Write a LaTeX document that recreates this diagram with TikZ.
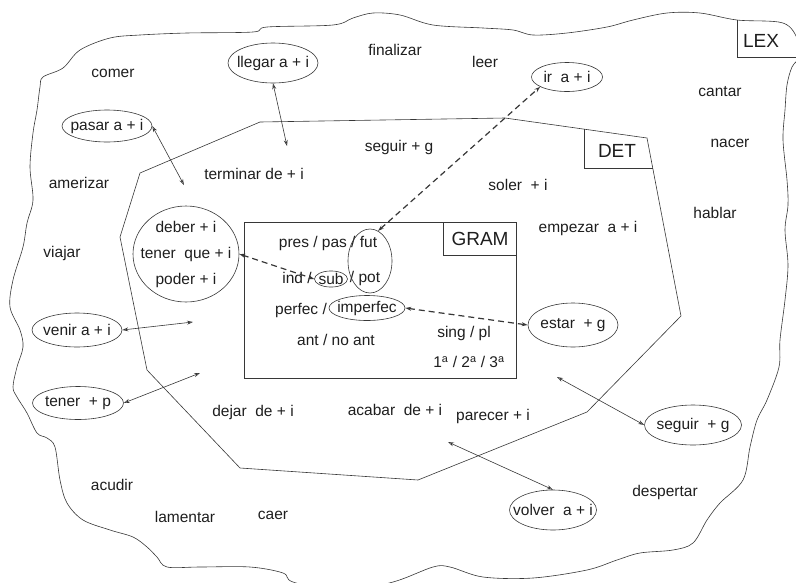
\documentclass[tikz,border=0pt]{standalone}
\usepackage{fontspec}
\setmainfont{Liberation Sans}
\usetikzlibrary{arrows.meta,shapes.geometric}
\definecolor{skInk}  {RGB}{ 30, 30, 30}
\definecolor{skLine} {RGB}{ 55, 55, 55}

\begin{document}
\begin{tikzpicture}[x=1pt,y=-1pt,
  every node/.style={font=\fontsize{15.5}{18}\selectfont,text=skInk},
  ov/.style={ellipse,draw=skLine,line width=0.6pt,inner xsep=-14pt,inner ysep=0pt},
  tag/.style={font=\fontsize{19}{22}\selectfont},
  rim/.style={draw=skLine,line width=0.6pt},
  arr/.style={{Stealth[open,length=6pt,width=4pt]}-{Stealth[open,length=6pt,width=4pt]},
              line width=0.6pt,skLine},
  darr/.style={arr,dash pattern=on 6pt off 4pt,line width=1.2pt}
]
\useasboundingbox (0,0) rectangle (796,582);

% LEX
\draw[rim] plot[smooth cycle,tension=0.55] coordinates {
  (43,77) (63,68) (80,50) (110,38) (140,35) (187,33) (253,32) (267,27)
  (333,25) (353,18) (373,13) (400,15) (433,25) (483,28) (513,30) (533,35)
  (567,33) (607,27) (633,20) (667,13) (700,13) (737,20) (783,23) (798,40)
  (800,56) (792,67) (787,85) (785,110) (783,140) (787,180) (788,205)
  (785,230) (788,265) (785,300) (780,340) (779,367) (767,400) (757,420)
  (750,447) (743,480) (720,503) (707,520) (693,543) (673,550) (640,553)
  (617,560) (587,570) (533,578) (483,577) (450,567) (433,567) (393,582)
  (340,592) (293,582) (283,573) (250,567) (200,567) (167,567) (157,557)
  (147,547) (133,537) (110,530) (83,520) (67,503) (60,480) (55,447)
  (47,438) (37,433) (27,413) (17,397) (13,387) (17,367) (23,347) (20,330)
  (10,307) (13,280) (23,247) (27,223) (33,200) (30,167) (33,133) (37,110)
  (40,87)};
\draw[rim] (737,20) -- (737,57) -- (800,57);
\node[tag] (lex) at (761,41) {LEX};

% DET
\draw[rim] (140,173) -- (260,122) -- (505,118) -- (647,138) -- (681,316)
  -- (587,412) -- (418,480) -- (240,468) -- (147,370) -- (120,237) -- cycle;
\draw[rim] (584,129) -- (584,168) -- (652.7,168);
\node[tag] (det) at (617,151) {DET};

% GRAM
\draw[rim] (244,222) rectangle (516,378);
\draw[rim] (443,222) -- (443,255) -- (516,255);
\node[tag] (gram) at (480,239) {GRAM};

\node (tiempo) at (328,243) {pres / pas / fut};
\node (ind) at (297,278) {ind /};
\node[ov,minimum width=33pt,minimum height=16pt] (sub) at (331,279) {sub};
\node (pot) at (365,278) {/ pot};
\node[ov,minimum width=44pt,minimum height=64pt] (futpot) at (370,261) {};
\node (perfec) at (301,310) {perfec /};
\node[ov,minimum width=76pt,minimum height=25pt] (imperfec) at (367,308) {imperfec};
\node (ant) at (336,340) {ant / no ant};
\node (num) at (464,333) {sing / pl};
\node (pers) at (469,362) {1\textsuperscript{a} / 2\textsuperscript{a} / 3\textsuperscript{a}};

% plain verbs
\node (comer) at (113,73) {comer};
\node (finalizar) at (395,50) {finalizar};
\node (leer) at (485,62) {leer};
\node (cantar) at (720,92) {cantar};
\node (nacer) at (730,143) {nacer};
\node (hablar) at (715,213) {hablar};
\node (seguir) at (399,147) {seguir + g};
\node (terminar) at (254,174) {terminar de + i};
\node (amerizar) at (79,183) {amerizar};
\node (soler) at (518,185) {soler\ \ + i};
\node (viajar) at (62,253) {viajar};
\node (empezar) at (588,228) {empezar\ \ a + i};
\node (dejar) at (253,412) {dejar\ \ de + i};
\node (acabar) at (395,410) {acabar\ \ de + i};
\node (parecer) at (493,416) {parecer + i};
\node (acudir) at (112,485) {acudir};
\node (lamentar) at (185,517) {lamentar};
\node (caer) at (273,515) {caer};
\node (despertar) at (665,492) {despertar};

% circled verbs
\node[ov,minimum width=90pt,minimum height=40pt] (llegar) at (273,63) {llegar a + i};
\node[ov,minimum width=90pt,minimum height=32pt] (pasar) at (107,126) {pasar a + i};
\node[ov,minimum width=71pt,minimum height=29pt] (ir) at (567,77) {ir\ \ a + i};
\node[ov,minimum width=106pt,minimum height=96pt,align=center,
      inner xsep=-22pt,inner ysep=-6pt,
      font=\fontsize{15.5}{26}\selectfont] (deber) at (186,254)
  {deber + i\\tener\ \ que + i\\poder + i};
\node[ov,minimum width=90pt,minimum height=34pt] (venir) at (77,330) {venir a + i};
\node[ov,minimum width=91pt,minimum height=33pt] (tenerp) at (78,403) {tener\ \ + p};
\node[ov,minimum width=90pt,minimum height=44pt] (estar) at (573,325) {estar\ \ + g};
\node[ov,minimum width=97pt,minimum height=40pt] (seguirg) at (693,425) {seguir\ \ + g};
\node[ov,minimum width=87pt,minimum height=40pt] (volver) at (553,510) {volver\ \ a + i};

% free ends
\coordinate (pLlegar) at (287,146);
\coordinate (pPasar) at (184,185);
\coordinate (pVenir) at (193,322);
\coordinate (pTener) at (200,373);
\coordinate (pSeguir) at (557,377);
\coordinate (pVolver) at (448,442);

\draw[arr] (llegar.south) -- (pLlegar);
\draw[arr] (pasar.east) -- (pPasar);
\draw[arr] (venir.east) -- (pVenir);
\draw[arr] (tenerp.east) -- (pTener);
\draw[arr] (pSeguir) -- (seguirg.west);
\draw[arr] (pVolver) -- (volver.north);

\draw[darr] (futpot.75) -- (ir.200);
\draw[darr] (deber.east) -- (sub.west);
\draw[darr] (imperfec.east) -- (estar.west);
\end{tikzpicture}
\end{document}
